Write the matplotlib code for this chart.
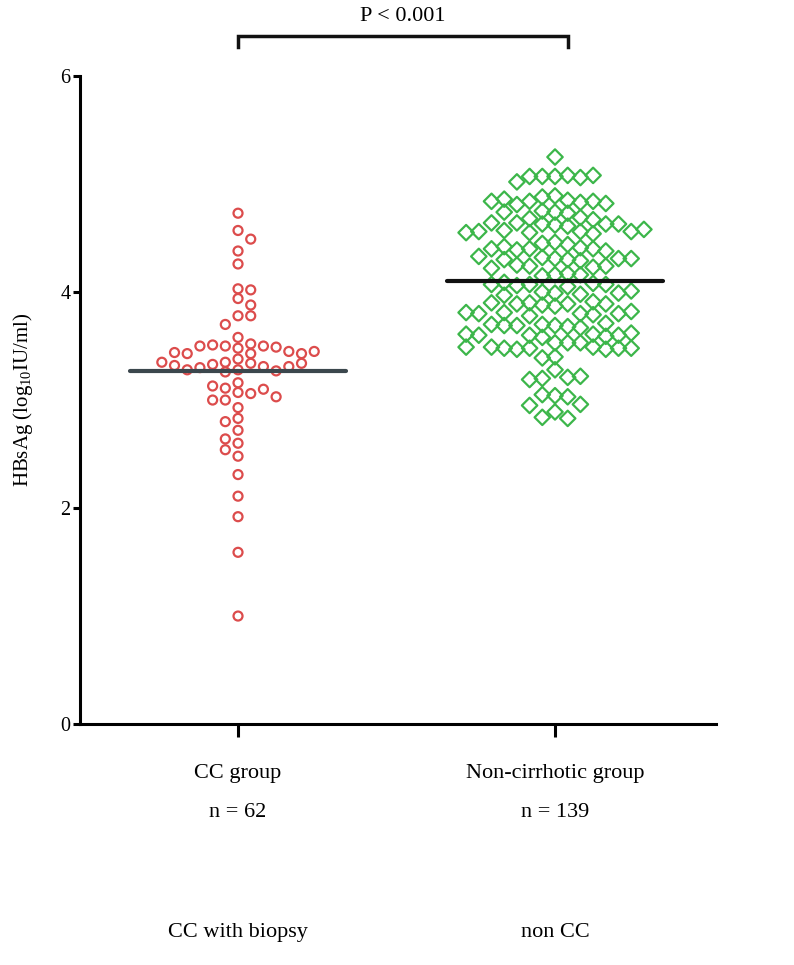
import matplotlib
matplotlib.use('Agg')
import matplotlib.pyplot as plt
import numpy as np

plt.rcParams['font.family'] = ['Liberation Serif', 'DejaVu Serif']
plt.rcParams['mathtext.fontset'] = 'custom'
plt.rcParams['mathtext.rm'] = 'Liberation Serif'

group_names = ['CC group', 'Non-cirrhotic group']
group_n = ['n = 62', 'n = 139']
group_sub = ['CC with biopsy', 'non CC']

# HBsAg, log10 IU/ml
cc_values = [4.73, 4.57, 4.49, 4.38, 4.26, 4.03, 4.02, 3.94, 3.88, 3.78, 3.78, 3.70, 3.58,
             3.50, 3.48, 3.52, 3.50, 3.51, 3.49, 3.50,
             3.45, 3.43, 3.43, 3.38, 3.43, 3.44, 3.45,
             3.35, 3.34, 3.33, 3.31, 3.30, 3.28, 3.26, 3.27, 3.28, 3.31, 3.32, 3.34, 3.35,
             3.16, 3.11, 3.07, 3.06, 3.10, 3.13, 3.00, 3.00, 3.03, 2.93, 2.83, 2.80,
             2.72, 2.64, 2.60, 2.54, 2.48, 2.31, 2.11, 1.92, 1.59, 1.00]
noncc_values = [5.25,
                5.07, 5.08, 5.07, 5.06, 5.07, 5.08, 5.02,
                4.89, 4.88,
                4.85, 4.84, 4.83, 4.81, 4.84, 4.86, 4.82, 4.84,
                4.74, 4.75, 4.73, 4.74,
                4.69, 4.68, 4.67, 4.63, 4.62, 4.64, 4.63, 4.61, 4.63, 4.64,
                4.56, 4.55, 4.57, 4.56, 4.54, 4.56, 4.58, 4.55,
                4.46, 4.45, 4.44, 4.40, 4.41, 4.39, 4.40, 4.42, 4.38, 4.40,
                4.31, 4.32, 4.30, 4.31, 4.29, 4.33, 4.31, 4.30,
                4.24, 4.25, 4.23, 4.24, 4.22, 4.16, 4.17, 4.15, 4.16,
                4.07, 4.08, 4.06, 4.07, 4.09, 4.05, 4.07,
                3.99, 4.00, 3.98, 3.99, 4.01, 3.97,
                3.89, 3.90, 3.88, 3.89, 3.91, 3.87, 3.89, 3.90,
                3.80, 3.81, 3.79, 3.80, 3.82, 3.78, 3.80, 3.81,
                3.69, 3.70, 3.68, 3.69, 3.71, 3.67, 3.69, 3.70,
                3.60, 3.61, 3.59, 3.60, 3.62, 3.58, 3.60, 3.61,
                3.53, 3.53, 3.53, 3.48, 3.49, 3.47, 3.48, 3.49, 3.47, 3.48, 3.48, 3.49,
                3.40, 3.39,
                3.28,
                3.20, 3.21, 3.19, 3.22,
                3.04, 3.03, 3.05, 2.96, 2.95,
                2.89,
                2.84, 2.83]
center_lines = [3.27, 4.10]


def swarm(vals, center, step, min_dy):
    # prism-like column layout: nudge sideways until no clash in the same column
    placed = []
    xs = []
    for i, v in enumerate(vals):
        sides = (-1, 1) if i % 2 else (1, -1)
        order = [0] + [s * j for j in range(1, 40) for s in sides]
        for k in order:
            if all(not (pk == k and abs(pv - v) < min_dy) for pk, pv in placed):
                break
        placed.append((k, v))
        xs.append(center + k * step)
    return xs


fig = plt.figure(figsize=(7.94, 9.65), dpi=100)
ax = fig.add_axes([0.1008, 0.2497, 0.801, 0.6715])

step = 12.7 / 317
cc_x = swarm(cc_values, 1, step, 0.083)
non_x = swarm(noncc_values, 2, step, 0.115)

ax.scatter(cc_x, cc_values, s=42, marker='o', facecolors='none',
           edgecolors='#dc4c4c', linewidths=1.6, zorder=3)
ax.scatter(non_x, noncc_values, s=62, marker='D', facecolors='none',
           edgecolors='#3cb64a', linewidths=1.6, zorder=3)

ax.plot([1 - 0.34, 1 + 0.34], [center_lines[0]] * 2, color='#3b474d', lw=3, zorder=4,
        solid_capstyle='round')
ax.plot([2 - 0.34, 2 + 0.34], [center_lines[1]] * 2, color='#111111', lw=3, zorder=4,
        solid_capstyle='round')

ax.set_xlim(0.5016, 2.508)
ax.set_ylim(0, 6)
ax.set_yticks([0, 2, 4, 6])
ax.set_xticks([1, 2])
ax.set_xticklabels(['', ''])
for s in ['top', 'right']:
    ax.spines[s].set_visible(False)
for s in ['left', 'bottom']:
    ax.spines[s].set_linewidth(2.2)
ax.tick_params(axis='y', length=5, width=2.2, labelsize=14.5, pad=2)
ax.tick_params(axis='x', length=9, width=2.2)
ax.set_ylabel(r'HBsAg (log$_{10}$IU/ml)', fontsize=15, labelpad=18)

tr = ax.get_xaxis_transform()
for i in range(2):
    ax.text(i + 1, -0.0756, group_names[i], transform=tr, ha='center', va='center', fontsize=16)
    ax.text(i + 1, -0.137, group_n[i], transform=tr, ha='center', va='center', fontsize=16)
    ax.text(i + 1, -0.321, group_sub[i], transform=tr, ha='center', va='center', fontsize=16)

# significance bracket
ax.plot([1, 1, 2.04, 2.04], [6.27, 6.37, 6.37, 6.27], color='#111111', lw=2.5,
        clip_on=False, solid_joinstyle='miter')
ax.text(1.52, 6.55, 'P < 0.001', ha='center', va='center', fontsize=16)

fig.savefig('out.png', dpi=100)
